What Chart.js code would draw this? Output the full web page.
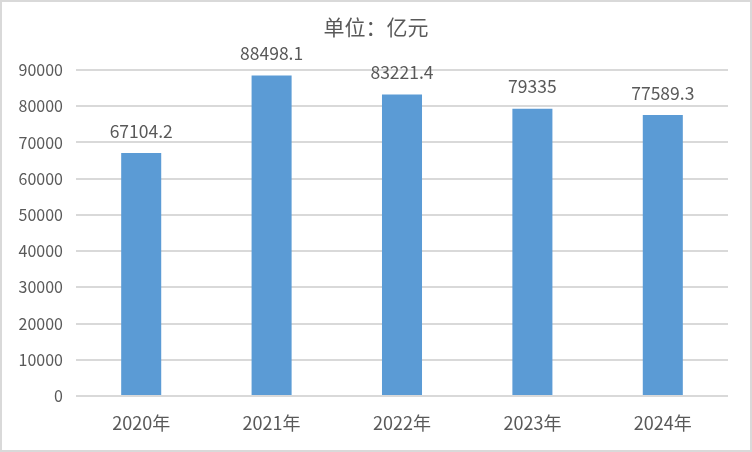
<!DOCTYPE html>
<html>
<head>
<meta charset="utf-8">
<script src="https://cdn.jsdelivr.net/npm/chart.js@4"></script>
<style>
  body { margin: 0; background: #fff; }
  #wrap { position: relative; width: 752px; height: 452px; }
  #frame { position: absolute; left: 0; top: 0; width: 752px; height: 452px; box-sizing: border-box; border: 2px solid #d9d9d9; pointer-events: none; }
</style>
</head>
<body>
<div id="wrap">
  <canvas id="myChart" width="752" height="452"></canvas>
  <div id="frame"></div>
</div>
<script>
// datos del grafico
const categorias = ["2020年", "2021年", "2022年", "2023年", "2024年"];
const valores = [67104.2, 88498.1, 83221.4, 79335, 77589.3];
const etiquetas = ["67104.2", "88498.1", "83221.4", "79335", "77589.3"];
const titulo = "单位：亿元";

const fuente = '"Noto Sans CJK SC", "Noto Sans", sans-serif';
const gris = "#595959";

// plugin para el titulo y los valores encima de cada barra
const etiquetasPlugin = {
  id: "etiquetas",
  afterDatasetsDraw(chart) {
    const ctx = chart.ctx;
    ctx.save();
    ctx.fillStyle = gris;
    ctx.textAlign = "center";
    ctx.textBaseline = "middle";
    ctx.font = "17.5px " + fuente;
    chart.getDatasetMeta(0).data.forEach((bar, i) => {
      ctx.fillText(etiquetas[i], bar.x, bar.y - 22);
    });
    ctx.font = "21px " + fuente;
    ctx.fillText(titulo, 376, 27);
    ctx.restore();
  }
};

new Chart(document.getElementById("myChart"), {
  type: "bar",
  data: {
    labels: categorias,
    datasets: [{
      data: valores,
      backgroundColor: "#5b9bd5",
      borderWidth: 0,
      categoryPercentage: 1,
      barPercentage: 0.307
    }]
  },
  options: {
    responsive: false,
    animation: false,
    layout: { padding: { left: 0, right: 24, top: 70, bottom: 0 } },
    plugins: {
      legend: { display: false },
      tooltip: { enabled: false }
    },
    scales: {
      x: {
        grid: { display: false, drawTicks: false },
        border: { display: false },
        ticks: { color: gris, font: { size: 18, family: fuente }, padding: 16 },
        afterFit: scale => { scale.height = 56; }
      },
      y: {
        min: 0,
        max: 90000,
        grid: { color: "#d9d9d9", lineWidth: 2, drawTicks: false },
        border: { display: false },
        ticks: {
          stepSize: 10000,
          color: gris,
          font: { size: 16, family: fuente },
          padding: 13,
          callback: v => String(v)
        },
        afterFit: scale => { scale.width = 76; }
      }
    }
  },
  plugins: [etiquetasPlugin]
});
</script>
</body>
</html>
